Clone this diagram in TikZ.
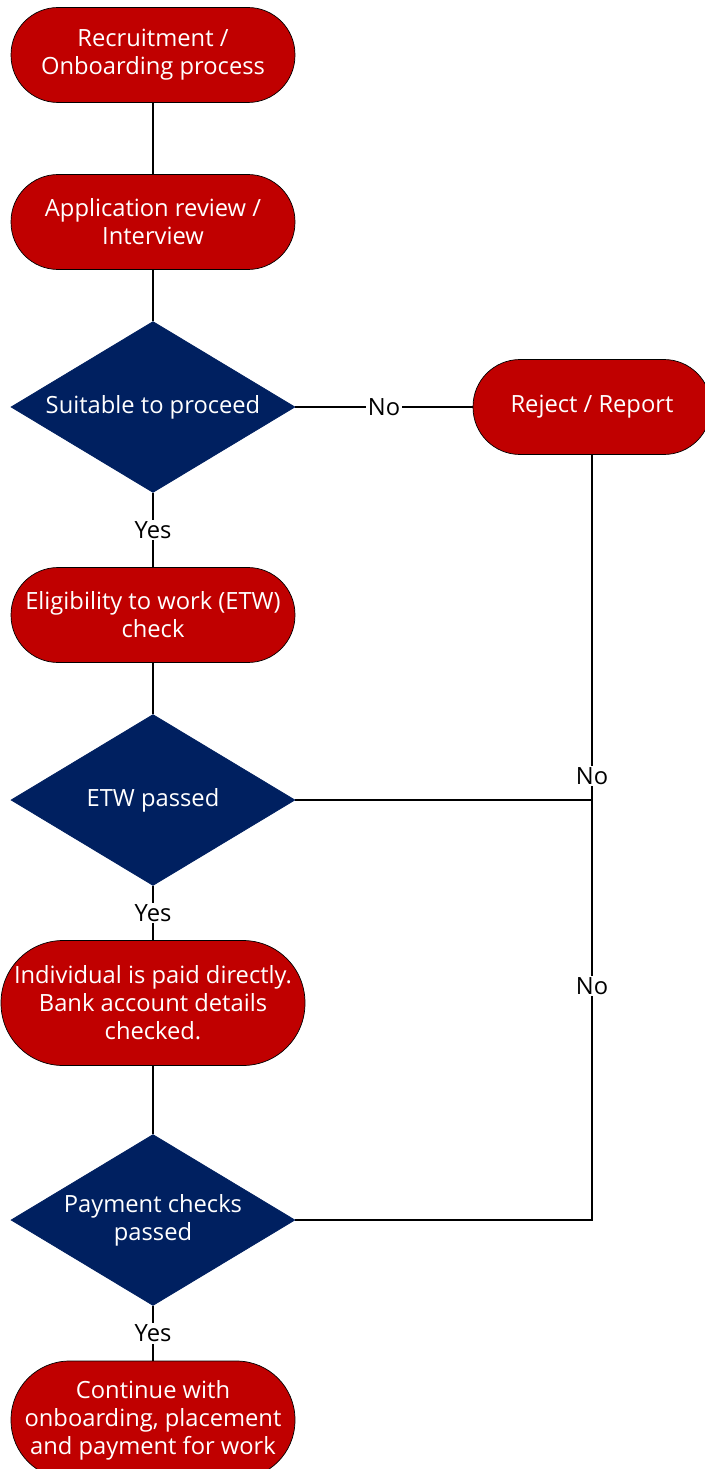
\documentclass[tikz,border=0pt]{standalone}
\usepackage{fontspec}
\setmainfont{Open Sans}
\usetikzlibrary{shapes,positioning,calc}
\definecolor{brand}{RGB}{192,0,0}
\definecolor{navy}{RGB}{0,32,96}

\begin{document}
\begin{tikzpicture}[
    x=0.02cm, y=-0.02cm,
    font=\fontsize{13.5}{16}\selectfont,
    stage/.style={rectangle, rounded corners=0.94cm, draw=black, fill=brand, text=white,
                  minimum width=5.68cm, minimum height=1.9cm, align=center, inner sep=1pt},
    check/.style={diamond, aspect=1.66, draw=navy, fill=navy, text=white,
                  minimum width=5.68cm, minimum height=3.42cm, align=center, inner sep=0pt},
    link/.style={line width=0.8pt},
    answer/.style={fill=white, inner sep=1pt}
  ]
    \useasboundingbox (0,0) rectangle (704,1469);

    \node[stage] (recruit) at (153, 55) {Recruitment /\\Onboarding process};
    \node[stage] (review) at (153, 222) {Application review /\\Interview};
    \node[check] (suitable) at (153, 407) {Suitable to proceed};
    \node[stage, minimum width=4.76cm] (reject) at (592, 407) {Reject / Report};
    \node[stage] (etw) at (153, 615) {Eligibility to work (ETW)\\check};
    \node[check] (etwpass) at (153, 800) {ETW passed};
    \node[stage, minimum width=6.08cm, minimum height=2.5cm, rounded corners=1.24cm] (paid) at (153, 1003)
        {Individual is paid directly.\\Bank account details\\checked.};
    \node[check] (paypass) at (153, 1220) {Payment checks\\passed};
    \node[stage, minimum height=2.36cm, rounded corners=1.17cm] (cont) at (153, 1420)
        {Continue with\\onboarding, placement\\and payment for work};

    \draw[link] (recruit) -- (review);
    \draw[link] (review) -- (suitable);
    \draw[link] (suitable) -- node[answer] {No} (reject);
    \draw[link] (suitable) -- node[answer] {Yes} (etw);
    \draw[link] (etw) -- (etwpass);
    \draw[link] (etwpass) -- node[answer] {Yes} (paid);
    \draw[link] (paid) -- (paypass);
    \draw[link] (paypass) -- node[answer] {Yes} (cont);
    \draw[link] (paypass.east) -| node[answer, pos=0.653] {No} (reject.south);
    \draw[link] (etwpass.east) -| node[answer, pos=0.535] {No} (reject.south);
  \end{tikzpicture}
\end{document}
